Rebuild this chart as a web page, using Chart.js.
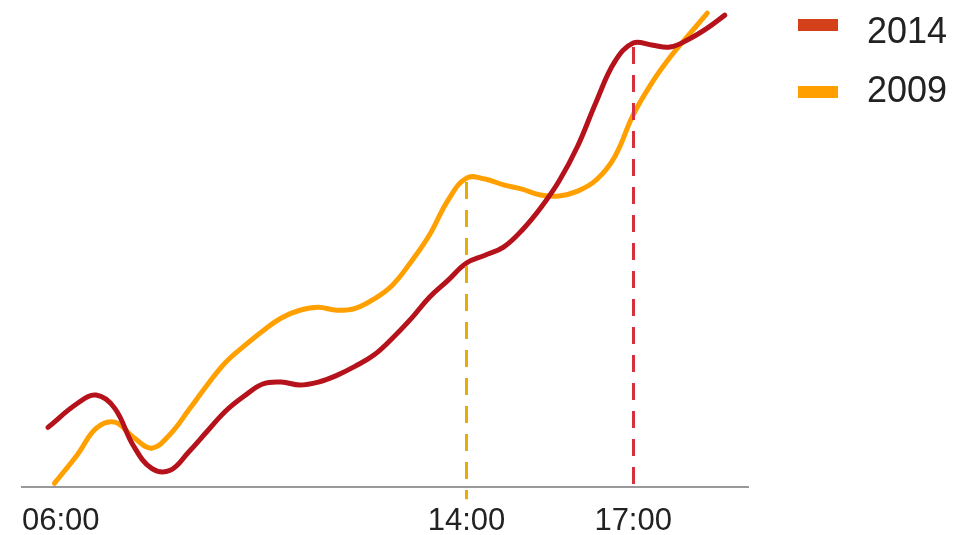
<!DOCTYPE html>
<html>
<head>
<meta charset="utf-8">
<script src="https://cdn.jsdelivr.net/npm/chart.js@4/dist/chart.umd.min.js"></script>
<style>
  html, body { margin: 0; padding: 0; background: #ffffff; overflow: hidden; }
  #wrap { width: 955px; height: 535px; overflow: hidden; }
</style>
</head>
<body>
<div id="wrap"><canvas id="chart" width="955" height="557"></canvas></div>
<script>
// Series: time of day (HH:MM) and index value, one pair of arrays per year
const seriesNames = ['2014', '2009'];

const times2014 = ['06:28', '07:00', '07:20', '07:40', '08:00', '08:20', '08:40', '09:00',
                   '09:20', '09:40', '10:00', '10:20', '10:40', '11:00', '11:20', '11:40',
                   '12:00', '12:20', '12:40', '13:00', '13:20', '13:40', '14:00', '14:20',
                   '14:40', '15:00', '15:20', '15:40', '16:00', '16:20', '16:40', '17:00',
                   '17:20', '17:40', '18:00', '18:20', '18:39'];
const values2014 = [12.4, 17.4, 19.1, 16.4, 8.7, 3.9, 3.5, 7.3,
                    11.6, 15.8, 18.9, 21.4, 21.8, 21.2, 21.8, 23.2,
                    25.1, 27.4, 30.9, 34.9, 39.4, 42.9, 46.5, 48.1,
                    49.8, 53.3, 57.9, 63.5, 70.7, 79.9, 88.2, 92.1,
                    91.7, 91.3, 92.9, 95.2, 97.9];

const times2009 = ['06:35', '07:00', '07:20', '07:40', '08:00', '08:20', '08:40', '09:00',
                   '09:20', '09:40', '10:00', '10:20', '10:40', '11:00', '11:20', '11:40',
                   '12:00', '12:20', '12:40', '13:00', '13:20', '13:40', '14:00', '14:20',
                   '14:40', '15:00', '15:20', '15:40', '16:00', '16:20', '16:40', '17:00',
                   '17:20', '17:40', '18:00', '18:20'];
const values2009 = [0.8, 6.8, 12.2, 13.5, 10.4, 8.1, 11.0, 16.0,
                    21.2, 25.9, 29.3, 32.4, 35.1, 36.7, 37.3, 36.7,
                    37.1, 39.0, 41.9, 46.7, 52.3, 59.5, 64.1, 63.9,
                    62.7, 61.8, 60.6, 60.4, 61.4, 63.7, 68.5, 77.2,
                    83.8, 89.2, 93.8, 98.3];

// Axis labels and the dashed time markers (each marker drops from one series)
const tickTimes = ['06:00', '14:00', '17:00'];
const markerTimes = ['14:00', '17:00'];
const markerSeries = ['2009', '2014'];

const axisStart = '06:00';
const axisEnd = '19:04';

function toHours(t) {
  const [h, m] = t.split(':').map(Number);
  return h + m / 60;
}
function toLabel(v) {
  const h = Math.floor(v + 1e-6);
  const m = Math.round((v - h) * 60);
  return String(h).padStart(2, '0') + ':' + String(m).padStart(2, '0');
}
function pairs(times, values) {
  return times.map((t, i) => ({ x: toHours(t), y: values[i] }));
}

const lineColors = { '2014': '#b5121b', '2009': '#ffa000' };
const swatchColors = { '2014': '#d4401a', '2009': '#ff9f00' };
const markerColors = { '2014': '#d6303a', '2009': '#e9ac00' };
const markerOvershoot = { '2014': 0, '2009': 12 };

const seriesData = {
  '2014': pairs(times2014, values2014),
  '2009': pairs(times2009, values2009)
};

const xMin = toHours(axisStart);
const xMax = toHours(axisEnd);
const tickHours = tickTimes.map(toHours);

// value of a series at a given hour, linear between its points
function valueAt(points, h) {
  for (let i = 0; i < points.length - 1; i++) {
    const a = points[i], b = points[i + 1];
    if (h >= a.x && h <= b.x) {
      return a.y + (b.y - a.y) * (h - a.x) / (b.x - a.x);
    }
  }
  return points[points.length - 1].y;
}

// dashed vertical markers from the series down to the time axis
const markerPlugin = {
  id: 'timeMarkers',
  afterDatasetsDraw(chart) {
    const { ctx } = chart;
    const xs = chart.scales.x, ys = chart.scales.y;
    markerTimes.forEach((t, i) => {
      const name = markerSeries[i];
      const h = toHours(t);
      const px = Math.round(xs.getPixelForValue(h)) + 0.5;
      const top = ys.getPixelForValue(valueAt(seriesData[name], h)) + 4;
      const bottom = chart.chartArea.bottom + markerOvershoot[name];
      ctx.save();
      ctx.strokeStyle = markerColors[name];
      ctx.lineWidth = 3;
      ctx.setLineDash([17, 11]);
      ctx.beginPath();
      ctx.moveTo(px, top);
      ctx.lineTo(px, bottom);
      ctx.stroke();
      ctx.restore();
    });
  }
};

// legend: short bar swatch followed by the series name
const legendPlugin = {
  id: 'barLegend',
  afterDraw(chart) {
    const { ctx } = chart;
    const rows = [{ boxTop: 19, textMid: 30 }, { boxTop: 86, textMid: 89 }];
    chart.data.datasets.forEach((ds, i) => {
      const r = rows[i];
      ctx.save();
      ctx.fillStyle = swatchColors[ds.label];
      ctx.fillRect(798, r.boxTop, 40, 12);
      ctx.fillStyle = '#222222';
      ctx.font = '36px "Liberation Sans", Arial, sans-serif';
      ctx.textBaseline = 'middle';
      ctx.textAlign = 'left';
      ctx.fillText(ds.label, 867, r.textMid + 3);
      ctx.restore();
    });
  }
};

Chart.defaults.font.family = '"Liberation Sans", Arial, sans-serif';

new Chart(document.getElementById('chart'), {
  type: 'line',
  data: {
    datasets: seriesNames.map(name => ({
      label: name,
      data: seriesData[name],
      borderColor: lineColors[name],
      backgroundColor: lineColors[name],
      borderWidth: 5,
      pointRadius: 0,
      tension: 0.4,
      borderCapStyle: 'round',
      borderJoinStyle: 'round',
      fill: false
    }))
  },
  options: {
    responsive: false,
    animation: false,
    layout: { padding: { left: 21, right: 207, top: 5, bottom: 1 } },
    plugins: {
      legend: { display: false },
      tooltip: { enabled: false }
    },
    scales: {
      x: {
        type: 'linear',
        min: xMin,
        max: xMax,
        grid: { display: false, drawTicks: false },
        border: { display: true, color: '#999999', width: 2 },
        afterBuildTicks(scale) {
          scale.ticks = tickHours.concat([xMax]).map(v => ({ value: v }));
        },
        ticks: {
          autoSkip: false,
          maxRotation: 0,
          align: 'inner',
          padding: 22,
          color: '#222222',
          font: { size: 31, lineHeight: 0.8 },
          callback(value) {
            return tickHours.some(h => Math.abs(h - value) < 1e-6) ? toLabel(value) : '';
          }
        }
      },
      y: { display: false, min: 0, max: 100 }
    }
  },
  plugins: [markerPlugin, legendPlugin]
});
</script>
</body>
</html>
